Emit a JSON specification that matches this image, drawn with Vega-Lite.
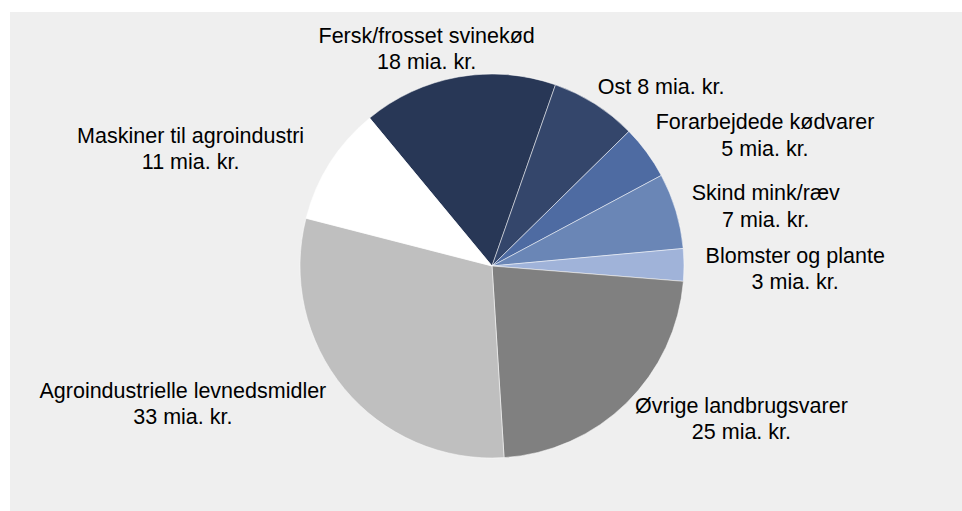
{
  "$schema": "https://vega.github.io/schema/vega-lite/v6.json",
  "autosize": "none",
  "width": 952,
  "height": 499,
  "padding": {"left": 10, "top": 12, "right": 0, "bottom": 0},
  "background": "#ffffff",
  "view": {"fill": "#efefef", "stroke": null},
  "data": {
    "values": [
      {"category": "Fersk/frosset svinekød", "value": 18, "order": 1, "label": "Fersk/frosset svinekød\n18 mia. kr."},
      {"category": "Ost", "value": 8, "order": 2, "label": "Ost 8 mia. kr."},
      {"category": "Forarbejdede kødvarer", "value": 5, "order": 3, "label": "Forarbejdede kødvarer\n5 mia. kr."},
      {"category": "Skind mink/ræv", "value": 7, "order": 4, "label": "Skind mink/ræv\n7 mia. kr."},
      {"category": "Blomster og plante", "value": 3, "order": 5, "label": "Blomster og plante\n3 mia. kr."},
      {"category": "Øvrige landbrugsvarer", "value": 25, "order": 6, "label": "Øvrige landbrugsvarer\n25 mia. kr."},
      {"category": "Agroindustrielle levnedsmidler", "value": 33, "order": 7, "label": "Agroindustrielle levnedsmidler\n33 mia. kr."},
      {"category": "Maskiner til agroindustri", "value": 11, "order": 8, "label": "Maskiner til agroindustri\n11 mia. kr."}
    ]
  },
  "encoding": {
    "theta": {"field": "value", "type": "quantitative", "stack": true, "scale": {"range": [-0.6912, 5.5920]}},
    "order": {"field": "order", "type": "quantitative", "sort": "ascending"}
  },
  "layer": [
    {
      "mark": {"type": "arc", "outerRadius": 192, "stroke": "#ffffff", "strokeWidth": 0.5, "x": {"expr": "width/2+6"}, "y": {"expr": "height/2+4.5"}},
      "encoding": {
        "color": {
          "field": "category",
          "type": "nominal",
          "legend": null,
          "scale": {
            "domain": ["Fersk/frosset svinekød", "Ost", "Forarbejdede kødvarer", "Skind mink/ræv", "Blomster og plante", "Øvrige landbrugsvarer", "Agroindustrielle levnedsmidler", "Maskiner til agroindustri"],
            "range": ["#283756", "#34466b", "#4e6ba2", "#6a86b6", "#a0b3d9", "#808080", "#bfbfbf", "#ffffff"]
          }
        }
      }
    },
    {
      "mark": {
        "type": "text",
        "x": {"expr": "width/2+6"},
        "y": {"expr": "height/2+4.5"},
        "radius": {"expr": "195 + 20*abs(sin(scale('theta', (datum.value_start + datum.value_end)/2)))"},
        "dx": {"expr": "length(split(datum.label, '\\n')[0]) * 4.9 * (sin(scale('theta', (datum.value_start + datum.value_end)/2)) < 0 ? -1 : 1) * min(1, abs(sin(scale('theta', (datum.value_start + datum.value_end)/2))) * 1.6)"},
        "dy": {"expr": "-length(split(datum.label, '\\n')) * 13.25 * pow(max(0, cos(scale('theta', (datum.value_start + datum.value_end)/2))), 2) - (length(split(datum.label, '\\n')) - 1) * 13.25 + 5"},
        "font": "Liberation Sans",
        "fontSize": 21.5,
        "lineHeight": 26.5,
        "lineBreak": "\n",
        "color": "#000000",
        "align": "center",
        "baseline": "middle"
      },
      "encoding": {
        "text": {"field": "label", "type": "nominal"}
      }
    }
  ]
}
